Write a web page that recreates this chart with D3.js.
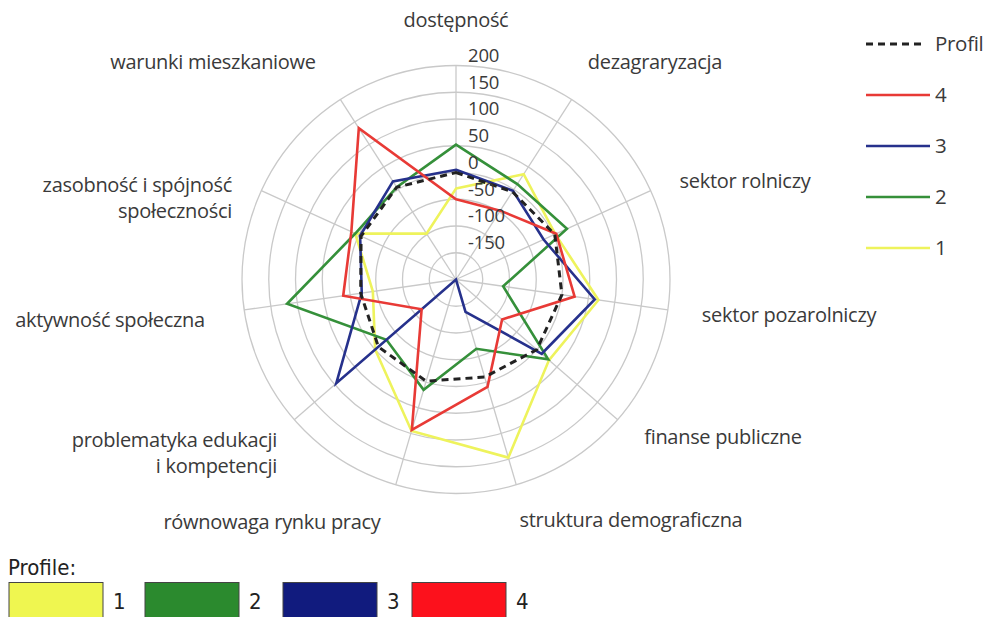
<!DOCTYPE html>
<html>
<head>
<meta charset="utf-8">
<script src="https://cdn.jsdelivr.net/npm/d3@7"></script>
<style>
  html, body { margin: 0; padding: 0; background: #fff; }
  svg { display: block; }
  .axis-label, .tick-label { font-family: "Open Sans", sans-serif; fill: #3a3a3a; }
  .legend-text { font-family: "Open Sans", sans-serif; fill: #3a3a3a; }
  .bottom-text { font-family: "Liberation Sans Narrow", "DejaVu Sans Condensed", "Liberation Sans", sans-serif; fill: #222; }
</style>
</head>
<body>
<svg id="chart" width="988" height="617"></svg>
<script>
// Dimensions of the radar (spokes run clockwise from the top)
const dimensions = [
  "dostępność",
  "dezagraryzacja",
  "sektor rolniczy",
  "sektor pozarolniczy",
  "finanse publiczne",
  "struktura demograficzna",
  "równowaga rynku pracy",
  "problematyka edukacji i kompetencji",
  "aktywność społeczna",
  "zasobność i spójność społeczności",
  "warunki mieszkaniowe"
];

// Average profile and the four profile groups
const profil   = [0, -5, 3, 0, 0, -10, -2, -8, -20, -5, 5];
const profil4  = [-50, -47, 6, 24, -86, 9, 93, -115, 13, 15, 136];
const profil3  = [5, -3, -20, 62, 12, -137, -200, 96, -22, -3, 18];
const profil2  = [52, 12, 28, -111, 28, -65, 15, -28, 119, 7, 5];
const profil1  = [-30, 34, 4, 69, 30, 147, 95, 0, -43, 7, -98];

const radialTicks = [-150, -100, -50, 0, 50, 100, 150, 200];
const legendKeys = ["Profil", "4", "3", "2", "1"];
const boxKeys = ["1", "2", "3", "4"];

const lineColors = { "Profil": "#222222", "4": "#e83a36", "3": "#26318c", "2": "#35903a", "1": "#eef35c" };
const boxColors  = { "1": "#eff650", "2": "#2b8a2e", "3": "#111b7e", "4": "#fc111c" };

const svg = d3.select("#chart");
const cx = 456, cy = 279.5, R = 214;

const r = d3.scaleLinear().domain([-200, 200]).range([0, R]);
const angle = d3.scaleLinear().domain([0, dimensions.length]).range([0, 2 * Math.PI]);

const g = svg.append("g").attr("transform", `translate(${cx},${cy})`);

// grid rings
g.selectAll("circle.ring")
  .data(radialTicks)
  .join("circle")
  .attr("r", d => r(d))
  .attr("fill", "none")
  .attr("stroke", "#c9c9c9")
  .attr("stroke-width", 1.3);

// spokes
g.selectAll("line.spoke")
  .data(dimensions)
  .join("line")
  .attr("x1", 0).attr("y1", 0)
  .attr("x2", (d, i) => r(200) * Math.sin(angle(i)))
  .attr("y2", (d, i) => -r(200) * Math.cos(angle(i)))
  .attr("stroke", "#c9c9c9")
  .attr("stroke-width", 1.3);

// series polygons
const radial = d3.lineRadial()
  .angle((d, i) => angle(i))
  .radius(d => r(d))
  .curve(d3.curveLinearClosed);

const series = [
  { key: "1", values: profil1 },
  { key: "2", values: profil2 },
  { key: "3", values: profil3 },
  { key: "4", values: profil4 }
];

g.selectAll("path.series")
  .data(series)
  .join("path")
  .attr("d", d => radial(d.values))
  .attr("fill", "none")
  .attr("stroke", d => lineColors[d.key])
  .attr("stroke-width", 2.6)
  .attr("stroke-linejoin", "miter");

g.append("path")
  .attr("d", radial(profil))
  .attr("fill", "none")
  .attr("stroke", lineColors["Profil"])
  .attr("stroke-width", 3)
  .attr("stroke-dasharray", "7,5");

// radial tick labels along the top spoke
g.selectAll("text.tick-label")
  .data(radialTicks)
  .join("text")
  .attr("class", "tick-label")
  .attr("x", 12)
  .attr("y", d => -r(d) - 10)
  .attr("dy", "0.35em")
  .attr("font-size", 18.5)
  .attr("letter-spacing", -0.2)
  .text(d => d);

// dimension labels
const labelPos = [
  { x: 456, y: 20, anchor: "middle" },
  { x: 655, y: 62, anchor: "middle" },
  { x: 745, y: 181, anchor: "middle" },
  { x: 789, y: 315, anchor: "middle" },
  { x: 723, y: 437, anchor: "middle" },
  { x: 631, y: 520, anchor: "middle" },
  { x: 272, y: 522, anchor: "middle" },
  { x: 277, y: 440, anchor: "end", lines: ["problematyka edukacji", "i kompetencji"] },
  { x: 110, y: 320, anchor: "middle" },
  { x: 232, y: 185, anchor: "end", lines: ["zasobność i spójność", "społeczności"] },
  { x: 213, y: 62, anchor: "middle" }
];

dimensions.forEach((name, i) => {
  const p = labelPos[i];
  const lines = p.lines || [name];
  const t = svg.append("text")
    .attr("class", "axis-label")
    .attr("text-anchor", p.anchor)
    .attr("font-size", 20)
    .attr("letter-spacing", -0.3);
  lines.forEach((ln, k) => {
    t.append("tspan")
      .attr("x", p.x)
      .attr("y", p.y + k * 26)
      .attr("dy", "0.35em")
      .text(ln);
  });
});

// right legend
const lg = svg.append("g");
legendKeys.forEach((k, i) => {
  const y = 44 + i * 51;
  lg.append("line")
    .attr("x1", 866).attr("x2", k === "Profil" ? 924 : 930)
    .attr("y1", y).attr("y2", y)
    .attr("stroke", lineColors[k])
    .attr("stroke-width", k === "Profil" ? 3 : 2.6)
    .attr("stroke-dasharray", k === "Profil" ? "7,5" : null);
  lg.append("text")
    .attr("class", "legend-text")
    .attr("x", 935).attr("y", y)
    .attr("dy", "0.35em")
    .attr("font-size", 20.5)
    .attr("letter-spacing", -0.3)
    .text(k);
});

// bottom legend
svg.append("text")
  .attr("class", "bottom-text")
  .attr("x", 8).attr("y", 567)
  .attr("dy", "0.35em")
  .attr("font-size", 22)
  .text("Profile:");

const boxX = [9, 145, 283, 412];
boxKeys.forEach((k, i) => {
  svg.append("rect")
    .attr("x", boxX[i]).attr("y", 582.5)
    .attr("width", 94).attr("height", 40)
    .attr("fill", boxColors[k])
    .attr("stroke", "#444")
    .attr("stroke-width", 1);
  svg.append("text")
    .attr("class", "bottom-text")
    .attr("x", boxX[i] + 104).attr("y", 601)
    .attr("dy", "0.35em")
    .attr("font-size", 22)
    .text(k);
});
</script>
</body>
</html>
